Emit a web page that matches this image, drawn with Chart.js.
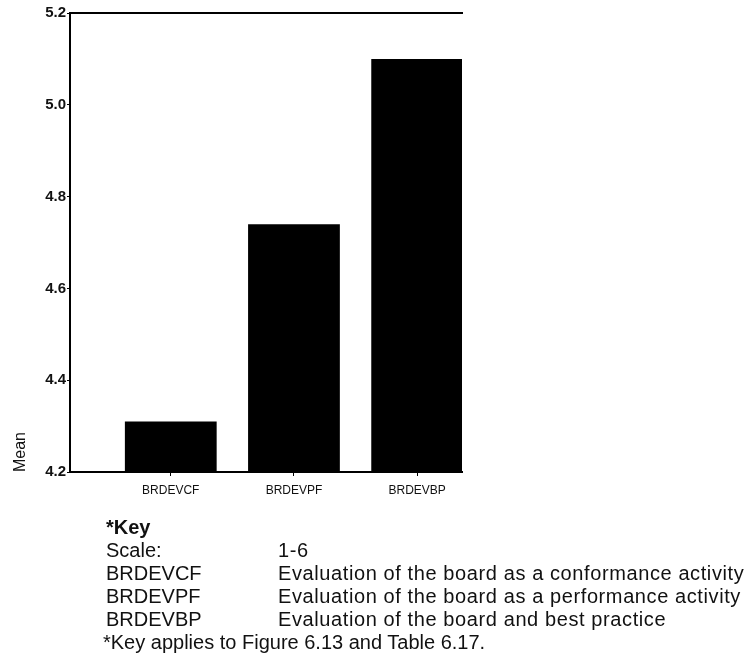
<!DOCTYPE html>
<html>
<head>
<meta charset="utf-8">
<script src="https://cdn.jsdelivr.net/npm/chart.js@4.4.1/dist/chart.umd.min.js"></script>
<style>
  html, body { margin: 0; padding: 0; background: #fff; }
  #wrap { position: relative; width: 751px; height: 662px; overflow: hidden; }
  #c { position: absolute; left: 0; top: 0; }
  #key {
    position: absolute; left: 106px; top: 516px;
    font-family: "Liberation Sans", Arial, Helvetica, sans-serif;
    font-size: 20px; line-height: 23px; color: #111;
  }
  #key .row { position: relative; height: 23px; white-space: nowrap; }
  #key .c2 { position: absolute; left: 172px; top: 0; letter-spacing: 0.6px; }
  #key .head { font-weight: bold; }
  #key .note { margin-left: -3px; }
</style>
</head>
<body>
<div id="wrap">
  <canvas id="c" width="751" height="662"></canvas>
  <div id="key"></div>
</div>
<script>
// Variables plotted on the x axis
const categories = ['BRDEVCF', 'BRDEVPF', 'BRDEVBP'];
// Mean score of each variable (scale 1-6)
const means = [4.31, 4.74, 5.10];
// Value axis ticks
const yTicks = [4.2, 4.4, 4.6, 4.8, 5.0, 5.2];
// Key beneath the chart
const keyRows = [
  ['Scale:', '1-6'],
  ['BRDEVCF', 'Evaluation of the board as a conformance activity'],
  ['BRDEVPF', 'Evaluation of the board as a performance activity'],
  ['BRDEVBP', 'Evaluation of the board and best practice']
];
const keyNote = '*Key applies to Figure 6.13 and Table 6.17.';

// Build the key text
const key = document.getElementById('key');
const head = document.createElement('div');
head.className = 'row head';
head.textContent = '*Key';
key.appendChild(head);
keyRows.forEach(([a, b]) => {
  const r = document.createElement('div');
  r.className = 'row';
  const s1 = document.createElement('span'); s1.textContent = a;
  const s2 = document.createElement('span'); s2.className = 'c2'; s2.textContent = b;
  r.appendChild(s1); r.appendChild(s2);
  key.appendChild(r);
});
const note = document.createElement('div');
note.className = 'row note';
note.textContent = keyNote;
key.appendChild(note);

const FONT = '"Liberation Sans", Arial, Helvetica, sans-serif';

new Chart(document.getElementById('c'), {
  type: 'bar',
  data: {
    datasets: [{
      data: means.map((v, i) => ({ x: i + 1, y: v })),
      backgroundColor: '#000',
      borderWidth: 0,
      barPercentage: 0.745,
      categoryPercentage: 1
    }]
  },
  options: {
    responsive: false,
    animation: false,
    layout: { padding: { left: 0, top: 13, right: 289, bottom: 160 } },
    plugins: { legend: { display: false }, tooltip: { enabled: false } },
    scales: {
      x: {
        type: 'linear',
        position: 'bottom',
        offset: false,
        min: 0.182,
        max: 3.364,
        afterBuildTicks: (s) => { s.ticks = categories.map((c, i) => ({ value: i + 1 })); },
        afterFit: (s) => { s.height = 30; },
        grid: { display: true, offset: false, drawOnChartArea: false, drawTicks: true, tickLength: 4, color: '#000', lineWidth: 1 },
        border: { display: true, color: '#000', width: 2 },
        ticks: {
          autoSkip: false,
          maxRotation: 0,
          padding: 7,
          color: '#111',
          font: { family: FONT, size: 12 },
          callback: (v) => categories[Math.round(v) - 1] || ''
        }
      },
      xTop: {
        type: 'linear',
        position: 'top',
        display: true,
        offset: false,
        min: 0, max: 1,
        afterFit: (s) => { s.height = 0; },
        grid: { display: false, drawTicks: false },
        border: { display: true, color: '#000', width: 2 },
        ticks: { display: false }
      },
      y: {
        min: yTicks[0],
        max: yTicks[yTicks.length - 1],
        afterBuildTicks: (s) => { s.ticks = yTicks.map(v => ({ value: v })); },
        afterFit: (s) => { s.width = 70; },
        grid: { display: true, drawOnChartArea: false, drawTicks: true, tickLength: 3, color: '#000', lineWidth: 1 },
        border: { display: true, color: '#000', width: 2 },
        ticks: {
          padding: 1,
          color: '#111',
          font: { family: FONT, size: 15, weight: 'bold' },
          callback: (v) => Number(v).toFixed(1)
        },
        title: {
          display: true,
          text: 'Mean',
          align: 'start',
          color: '#111',
          font: { family: FONT, size: 16 },
          padding: { top: 11, bottom: 0 }
        }
      }
    }
  }
});
</script>
</body>
</html>
